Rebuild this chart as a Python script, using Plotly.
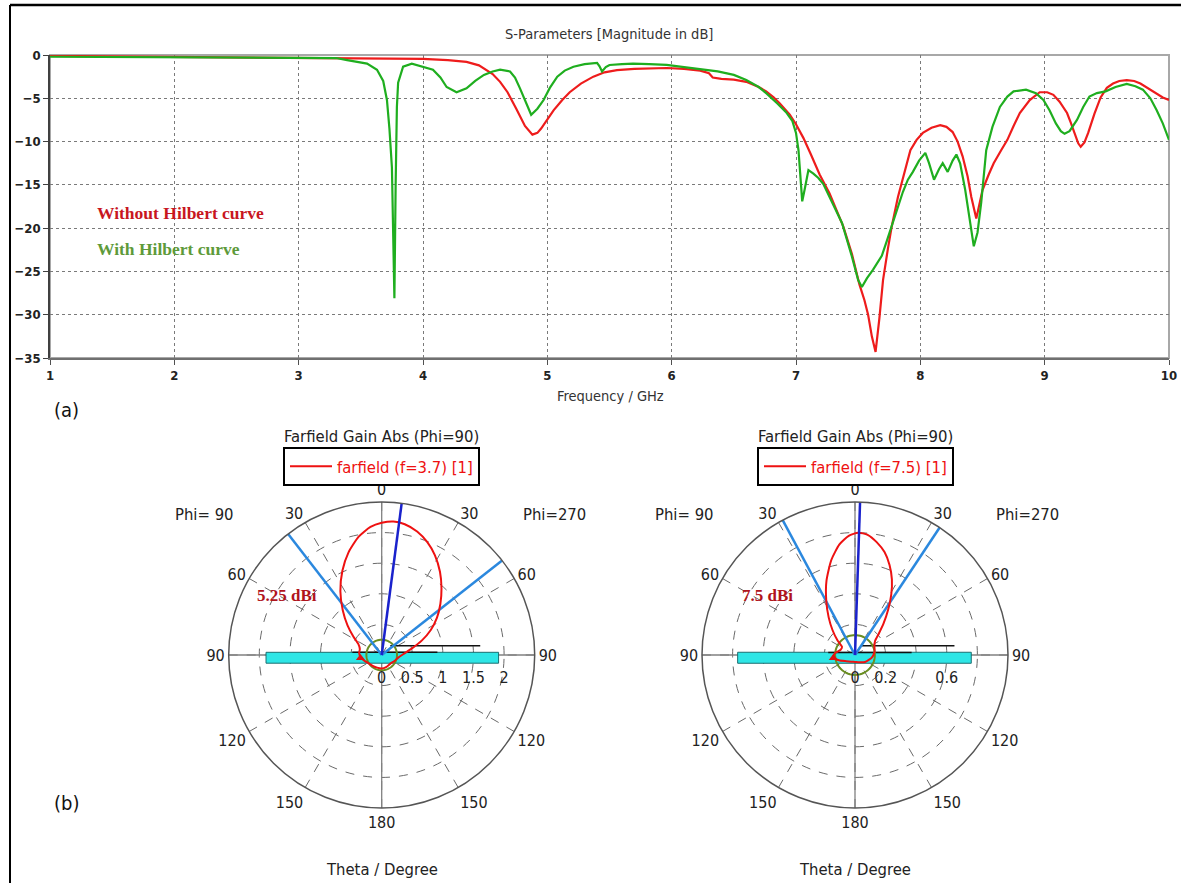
import numpy as np
import plotly.graph_objects as go

W, H = 1181, 883

# ---------------- S-parameter data ----------------
freq_red = [1.0, 1.5, 2.0, 2.5, 3.0, 3.5, 3.8, 4.0, 4.2, 4.35, 4.45, 4.51, 4.56, 4.62, 4.68, 4.75,
            4.82, 4.88, 4.92, 4.95, 5.0, 5.05, 5.12, 5.18, 5.27, 5.37, 5.46, 5.56, 5.7, 5.85, 5.96,
            6.1, 6.23, 6.3, 6.33, 6.4, 6.5, 6.6, 6.7, 6.76, 6.82, 6.87, 6.95, 7.0, 7.06, 7.12, 7.19,
            7.27, 7.38, 7.45, 7.51, 7.55, 7.58, 7.61, 7.64, 7.67, 7.70, 7.74, 7.77, 7.82, 7.87, 7.92,
            7.97, 8.02, 8.09, 8.16, 8.21, 8.26, 8.30, 8.34, 8.38, 8.41, 8.45, 8.5, 8.55, 8.59, 8.65,
            8.70, 8.75, 8.80, 8.88, 8.96, 9.02, 9.07, 9.12, 9.18, 9.21, 9.24, 9.27, 9.29, 9.32, 9.35,
            9.40, 9.45, 9.50, 9.55, 9.60, 9.66, 9.72, 9.77, 9.84, 9.90, 9.95, 10.0]
s11_red = [-0.1, -0.15, -0.2, -0.25, -0.3, -0.35, -0.4, -0.45, -0.6, -0.8, -1.2, -1.7, -2.2, -3.1, -4.3, -6.2,
           -8.2, -9.2, -9.0, -8.5, -7.5, -6.4, -5.2, -4.3, -3.3, -2.5, -2.0, -1.75, -1.6, -1.5, -1.5,
           -1.6, -1.8, -2.1, -2.6, -2.75, -2.85, -3.1, -3.7, -4.2, -4.9, -5.6, -6.9, -8.0, -9.6, -11.5, -13.8,
           -16.0, -19.8, -23.0, -26.5, -28.3, -30.0, -32.5, -34.3, -30.5, -26.0, -22.3, -19.8, -16.4, -13.6, -11.0,
           -9.8, -9.0, -8.4, -8.1, -8.3, -8.9, -10.0, -11.7, -14.0, -16.4, -18.9, -15.6, -13.8, -12.5, -11.0,
           -9.8, -8.2, -6.7, -5.2, -4.3, -4.3, -4.6, -5.4, -6.7, -7.8, -9.0, -10.2, -10.6, -10.1, -9.0,
           -6.8, -4.9, -3.8, -3.3, -3.0, -2.9, -3.0, -3.3, -3.9, -4.5, -4.9, -5.2]

freq_green = [1.0, 2.0, 3.0, 3.3, 3.39, 3.47, 3.55, 3.63, 3.68, 3.71, 3.73, 3.75, 3.76, 3.77, 3.78, 3.79,
              3.80, 3.84, 3.91, 3.98, 4.08, 4.14, 4.19, 4.27, 4.35, 4.42, 4.49, 4.56, 4.62, 4.70, 4.74,
              4.78, 4.83, 4.87, 4.92, 4.97, 5.02, 5.08, 5.14, 5.21, 5.30, 5.40, 5.42, 5.44, 5.47, 5.50,
              5.60, 5.69, 5.82, 5.96, 6.1, 6.23, 6.37, 6.50, 6.60, 6.70, 6.76, 6.85, 6.92, 6.97, 7.00,
              7.02, 7.04, 7.05, 7.07, 7.10, 7.14, 7.18, 7.22, 7.27, 7.32, 7.37, 7.45, 7.50, 7.53, 7.57,
              7.62, 7.69, 7.73, 7.77, 7.82, 7.86, 7.90, 7.94, 7.99, 8.04, 8.07, 8.11, 8.15, 8.18, 8.22,
              8.26, 8.29, 8.32, 8.36, 8.40, 8.43, 8.46, 8.49, 8.53, 8.58, 8.64, 8.70, 8.75, 8.85, 8.93,
              8.99, 9.04, 9.09, 9.13, 9.16, 9.20, 9.26, 9.31, 9.36, 9.42, 9.49, 9.57, 9.66, 9.73, 9.79,
              9.85, 9.90, 9.95, 10.0]
s11_green = [-0.2, -0.25, -0.3, -0.35, -0.6, -0.8, -1.0, -1.7, -3.0, -5.2, -8.5, -13.0, -20.0, -28.1, -15.0, -6.0,
             -3.2, -1.35, -1.0, -1.3, -1.7, -2.6, -3.7, -4.3, -3.85, -3.0, -2.3, -1.9, -1.7, -1.9, -2.6,
             -3.85, -5.5, -6.9, -6.2, -5.2, -3.8, -2.5, -1.8, -1.35, -1.05, -0.9, -1.3, -1.9, -1.4, -1.15,
             -1.05, -1.0, -1.05, -1.15, -1.4, -1.65, -1.9, -2.3, -2.9, -3.7, -4.4, -5.6, -6.6, -7.6, -9.0,
             -11.0, -14.5, -16.9, -15.5, -13.3, -13.7, -14.2, -14.9, -16.4, -17.8, -19.4, -23.3, -26.0, -26.8, -25.8,
             -24.8, -23.2, -21.5, -19.8, -17.5, -15.8, -14.4, -13.5, -12.2, -11.3, -12.5, -14.4, -13.2, -12.5, -13.5,
             -12.2, -11.5, -12.5, -15.5, -19.5, -22.1, -20.5, -17.0, -11.0, -8.3, -6.0, -4.8, -4.2, -4.0, -4.4,
             -5.2, -6.4, -7.9, -8.8, -9.1, -8.8, -7.5, -6.0, -4.8, -4.4, -4.2, -3.7, -3.35, -3.6, -4.0,
             -5.0, -6.35, -7.9, -9.8]

x_ticks = [1, 2, 3, 4, 5, 6, 7, 8, 9, 10]
y_ticks = [0, -5, -10, -15, -20, -25, -30, -35]

# ---------------- Farfield data ----------------
theta_ticks = [0, 30, 60, 90, 120, 150, 180, 210, 240, 270, 300, 330]
theta_labels = ["0", "30", "60", "90", "120", "150", "180", "150", "120", "90", "60", "30"]

theta_f37 = [180, 200, 220, 240, 255, 265, 275, 285, 295, 303, 311, 319, 327, 335, 342, 349, 355, 0, 5,
             10, 16, 22, 28, 35, 42, 49, 56, 63, 70, 78, 88, 100, 115, 135, 160, 180]
gain_f37 = [0.22, 0.22, 0.23, 0.26, 0.31, 0.35, 0.37, 0.37, 0.42, 0.55, 0.74, 0.97, 1.24, 1.52, 1.76,
            1.97, 2.1, 2.16, 2.19, 2.17, 2.1, 1.99, 1.85, 1.66, 1.46, 1.27, 1.09, 0.9, 0.7, 0.5, 0.35,
            0.27, 0.23, 0.2, 0.21, 0.22]

theta_f75 = [180, 210, 235, 252, 264, 276, 290, 302, 310, 318, 325, 332, 339, 346, 352, 357, 1.5, 6,
             11, 16, 21, 26, 31, 36, 42, 48, 55, 65, 80, 100, 125, 150, 180]
gain_f75 = [0.045, 0.05, 0.07, 0.11, 0.145, 0.13, 0.1, 0.1, 0.15, 0.22, 0.3, 0.4, 0.52, 0.64, 0.73,
            0.78, 0.80, 0.79, 0.75, 0.70, 0.63, 0.55, 0.46, 0.37, 0.28, 0.21, 0.16, 0.14, 0.13, 0.11,
            0.08, 0.055, 0.045]

r_ticks_37 = [0, 0.5, 1, 1.5, 2]
r_labels_37 = ["0", "0.5", "1", "1.5", "2"]
r_max_37 = 2.5
r_ticks_75 = [0, 0.2, 0.4, 0.6, 0.8]
r_labels_75 = ["0", "0.2", "", "0.6", ""]
r_max_75 = 1.0

main_dir_37 = 7.5
hpbw_37 = [322.3, 51.9]
main_dir_75 = 1.9
hpbw_75 = [331.8, 33.6]

# antenna overlay (cartesian, radial units)
bar_x_37 = [-1.89, 1.91]
bar_y_37 = [-0.134, 0.044]
lineA_x_37 = [0.14, 1.61]
lineA_y_37 = 0.15
lineB_x_37 = [-0.48, 0.91]
lineB_y_37 = 0.044
ring_r_37 = 0.25
mark_37 = [0.35, 262]

bar_x_75 = [-0.767, 0.760]
bar_y_75 = [-0.054, 0.018]
lineA_x_75 = [0.033, 0.65]
lineA_y_75 = 0.06
lineB_x_75 = [-0.175, 0.37]
lineB_y_75 = 0.017
ring_r_75 = 0.13
mark_75 = [0.143, 262]

FONT = "DejaVu Sans Condensed, DejaVu Sans, sans-serif"
SERIF = "Liberation Serif, Times New Roman, serif"


def to_polar(xs, ys):
    xs = np.asarray(xs, float)
    ys = np.asarray(ys, float)
    r = np.hypot(xs, ys)
    th = np.degrees(np.arctan2(xs, ys)) % 360
    return r.tolist(), th.tolist()


fig = go.Figure()

# ---------------- top S-parameter chart ----------------
fig.add_trace(go.Scatter(x=freq_red, y=s11_red, mode="lines", line=dict(color="#ee1c1c", width=2.2),
                         showlegend=False, xaxis="x", yaxis="y"))
fig.add_trace(go.Scatter(x=freq_green, y=s11_green, mode="lines", line=dict(color="#1fae1f", width=2.2),
                         showlegend=False, xaxis="x", yaxis="y"))


def add_polar(sub, legend, theta, gain, rmax, main_dir, hpbw, bar_x, bar_y, la_x, la_y, lb_x, lb_y,
              ring_r, mark, fname):
    for th in (0, 90):
        fig.add_trace(go.Scatterpolar(r=[rmax, rmax], theta=[th, th + 180], mode="lines",
                                      line=dict(color="#808080", width=1.3), showlegend=False,
                                      subplot=sub, hoverinfo="skip"))
    bx = [bar_x[0], bar_x[1], bar_x[1], bar_x[0], bar_x[0]]
    by = [bar_y[0], bar_y[0], bar_y[1], bar_y[1], bar_y[0]]
    r, t = to_polar(bx, by)
    fig.add_trace(go.Scatterpolar(r=r, theta=t, mode="lines", fill="toself", fillcolor="#2ee6e6",
                                  line=dict(color="#1c6e70", width=1), showlegend=False, subplot=sub,
                                  hoverinfo="skip"))
    for xs, yv in ((la_x, la_y), (lb_x, lb_y)):
        r, t = to_polar(xs, [yv, yv])
        fig.add_trace(go.Scatterpolar(r=r, theta=t, mode="lines", line=dict(color="#111111", width=1.5),
                                      showlegend=False, subplot=sub, hoverinfo="skip"))
    ring_t = list(range(0, 361, 5))
    fig.add_trace(go.Scatterpolar(r=[ring_r] * len(ring_t), theta=ring_t, mode="lines",
                                  line=dict(color="#6a8e22", width=2), showlegend=False, subplot=sub,
                                  hoverinfo="skip"))
    for h in hpbw:
        fig.add_trace(go.Scatterpolar(r=[0, rmax], theta=[h, h], mode="lines",
                                      line=dict(color="#2b88de", width=2.5), showlegend=False,
                                      subplot=sub, hoverinfo="skip"))
    fig.add_trace(go.Scatterpolar(r=gain, theta=theta, mode="lines",
                                  line=dict(color="#ee1111", width=2, shape="spline", smoothing=0.6),
                                  name=fname, legend=legend, subplot=sub))
    fig.add_trace(go.Scatterpolar(r=[0, rmax], theta=[main_dir, main_dir], mode="lines",
                                  line=dict(color="#1a22cc", width=2.5), showlegend=False,
                                  subplot=sub, hoverinfo="skip"))
    fig.add_trace(go.Scatterpolar(r=[mark[0]], theta=[mark[1]], mode="markers",
                                  marker=dict(symbol="triangle-up", size=8, color="#dd1111"),
                                  showlegend=False, subplot=sub, hoverinfo="skip"))


add_polar("polar", "legend", theta_f37, gain_f37, r_max_37, main_dir_37, hpbw_37, bar_x_37, bar_y_37,
          lineA_x_37, lineA_y_37, lineB_x_37, lineB_y_37, ring_r_37, mark_37, "farfield (f=3.7) [1]")
add_polar("polar2", "legend2", theta_f75, gain_f75, r_max_75, main_dir_75, hpbw_75, bar_x_75, bar_y_75,
          lineA_x_75, lineA_y_75, lineB_x_75, lineB_y_75, ring_r_75, mark_75, "farfield (f=7.5) [1]")


def px(x):
    return x / W


def py(y):
    return 1 - y / H


R = 153.0
cl = (381.7, 655.0)
cr = (855.0, 655.0)


def polar_layout(c, rmax, rt, rl):
    return dict(
        domain=dict(x=[px(c[0] - R), px(c[0] + R)], y=[py(c[1] + R), py(c[1] - R)]),
        bgcolor="white",
        angularaxis=dict(rotation=90, direction="clockwise", tickvals=theta_ticks, ticktext=theta_labels,
                         showline=True, linecolor="#555555", linewidth=1.5, showgrid=True,
                         gridcolor="#6a6a6a", griddash="dash", gridwidth=1, ticks="",
                         tickfont=dict(family=FONT, size=16, color="#222222")),
        radialaxis=dict(range=[0, rmax], tickvals=rt, ticktext=rl, showline=False, showgrid=True,
                        gridcolor="#6a6a6a", griddash="dash", gridwidth=1, ticks="outside", ticklen=8,
                        tickcolor="rgba(0,0,0,0)", angle=0, side="clockwise", tickangle=0,
                        tickfont=dict(family=FONT, size=16, color="#222222")),
    )


LEGFONT = dict(family=FONT, size=16.5, color="#ee1111")
fig.update_layout(
    width=W, height=H, autosize=False, margin=dict(l=0, r=0, t=0, b=0, pad=0, autoexpand=False),
    paper_bgcolor="white", plot_bgcolor="white",
    xaxis=dict(domain=[px(50), px(1169)], range=[1, 10], tickvals=x_ticks, showgrid=True,
               gridcolor="#7a7a7a", griddash="dot", gridwidth=1, zeroline=False, showline=True,
               linecolor="#707070", linewidth=1.5, ticks="outside", ticklen=5, tickcolor="#505050",
               automargin=False,
               tickfont=dict(family=FONT, size=13, color="#222222", weight="bold"), anchor="y"),
    yaxis=dict(domain=[py(358), py(55)], range=[-35, 0], tickvals=y_ticks, showgrid=True,
               gridcolor="#7a7a7a", griddash="dot", gridwidth=1, zeroline=False, showline=True,
               linecolor="#404040", linewidth=1.5, ticks="outside", ticklen=5, tickcolor="#404040",
               automargin=False,
               tickfont=dict(family=FONT, size=13, color="#222222", weight="bold"), anchor="x"),
    polar=polar_layout(cl, r_max_37, r_ticks_37, r_labels_37),
    polar2=polar_layout(cr, r_max_75, r_ticks_75, r_labels_75),
    legend=dict(x=px(283), y=py(447), xanchor="left", yanchor="top", bordercolor="black", borderwidth=2,
                bgcolor="white", font=LEGFONT, itemwidth=42),
    legend2=dict(x=px(757), y=py(447), xanchor="left", yanchor="top", bordercolor="black", borderwidth=2,
                 bgcolor="white", font=LEGFONT, itemwidth=42),
)

fig.add_shape(type="rect", xref="x domain", yref="y domain", x0=0, x1=1, y0=0, y1=1,
              line=dict(color="#a8a8a8", width=2), layer="below")
fig.add_shape(type="line", xref="paper", yref="paper", x0=px(10), x1=1, y0=py(5), y1=py(5),
              line=dict(color="black", width=2.5))
fig.add_shape(type="line", xref="paper", yref="paper", x0=px(10), x1=px(10), y0=py(5), y1=0,
              line=dict(color="black", width=2))


def ann(text, x, y, size=15, color="#222222", family=FONT, xanchor="center", bold=False):
    fig.add_annotation(text=("<b>%s</b>" % text) if bold else text, x=px(x), y=py(y), xref="paper",
                       yref="paper", showarrow=False, xanchor=xanchor, yanchor="middle",
                       font=dict(family=family, size=size, color=color))


ann("S-Parameters [Magnitude in dB]", 609, 34, size=14.5, color="#333333")
ann("Frequency / GHz", 610, 396, size=14.5, color="#333333")
ann("Without Hilbert curve", 95, 213, size=17.5, color="#c8161e", family=SERIF, xanchor="left", bold=True)
ann("With Hilbert curve", 95, 249, size=17.5, color="#5e9a3a", family=SERIF, xanchor="left", bold=True)
ann("(a)", 52, 410, size=20, color="#111111", xanchor="left")
ann("(b)", 52, 803, size=20, color="#111111", xanchor="left")
for c in (cl, cr):
    ann("Farfield Gain Abs (Phi=90)", c[0], 436.5, size=16.5)
    ann("Theta / Degree", c[0], 869, size=16.5)
ann("Phi= 90", 204, 514, size=16.5)
ann("Phi=270", 554, 514, size=16.5)
ann("Phi= 90", 684, 514, size=16.5)
ann("Phi=270", 1027, 514, size=16.5)
ann("5.25 dBi", 287, 595, size=17, color="#b0141c", family=SERIF, bold=True)
ann("7.5 dBi", 768, 595, size=17, color="#b0141c", family=SERIF, bold=True)

fig.write_html("out.html",
               post_script="document.body.style.margin='0';document.body.style.overflow='hidden';")
